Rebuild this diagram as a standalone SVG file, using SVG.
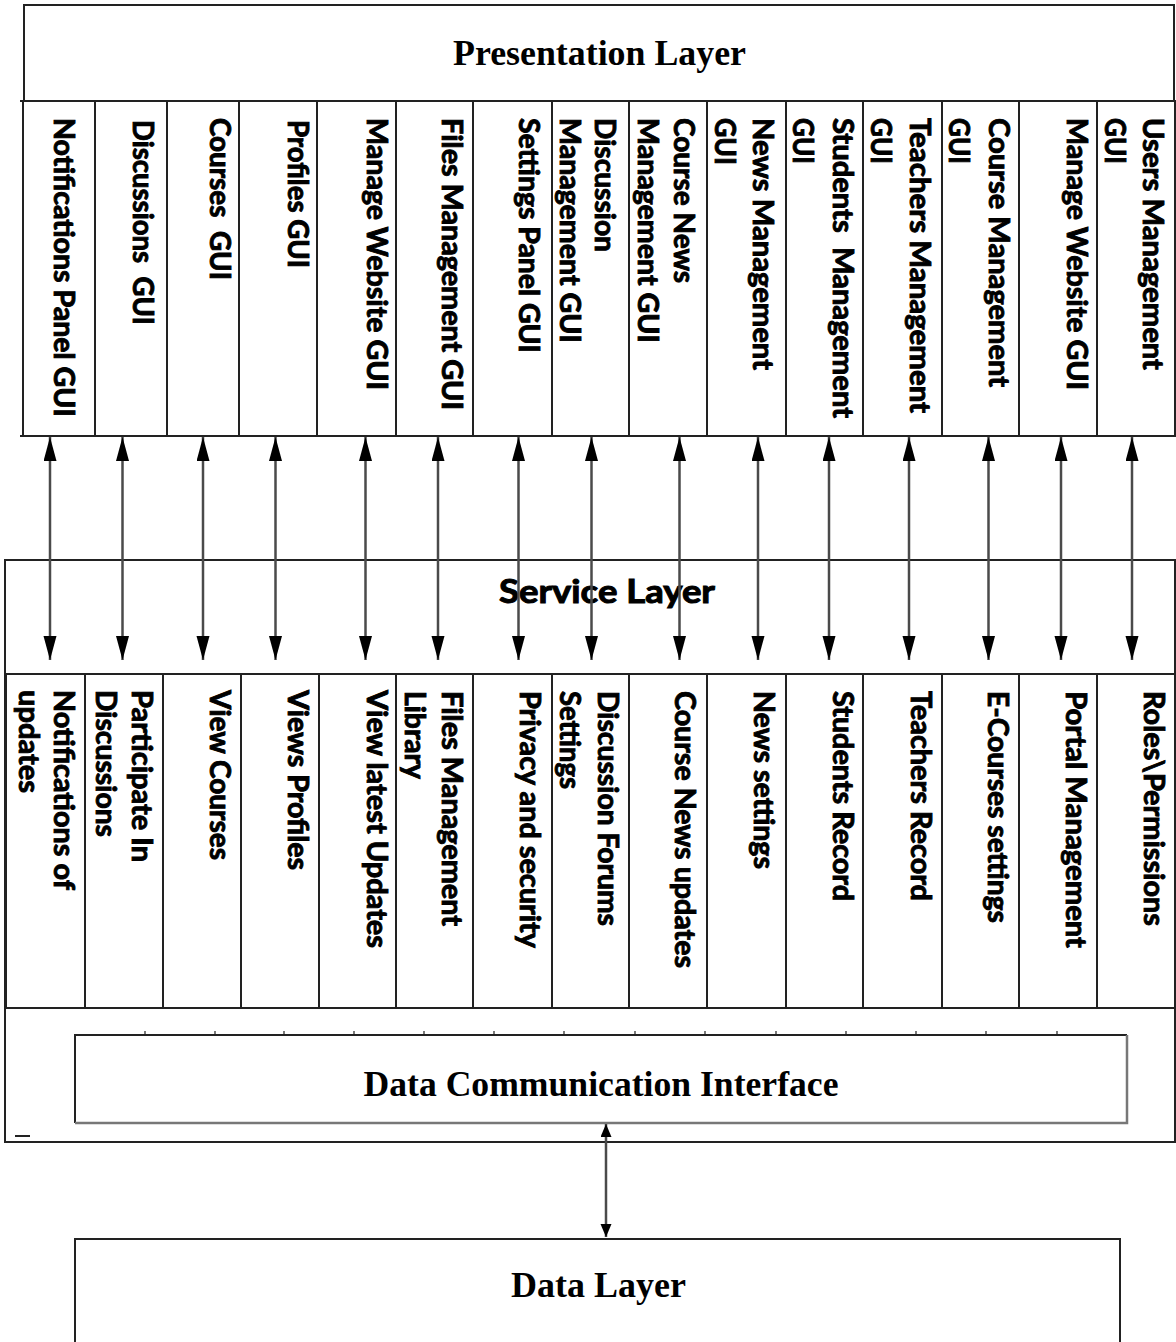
<svg xmlns="http://www.w3.org/2000/svg" width="1176" height="1342" viewBox="0 0 1176 1342">
  <style>
    .box { fill: #fff; stroke: #222; stroke-width: 2; }
    .cell { fill: none; stroke: #222; stroke-width: 2; }
    .rule { stroke: #222; stroke-width: 2; fill: none; }
    .col { font-family: Lato, "Liberation Sans", sans-serif; font-weight: bold; font-size: 28px; fill: #000; stroke: #000; stroke-width: 0.9; }
    .serif { font-family: "Liberation Serif", "Times New Roman", serif; font-weight: bold; font-size: 35px; fill: #000; }
    .sans { font-family: Lato, "Liberation Sans", sans-serif; font-weight: bold; font-size: 32px; fill: #000; stroke: #000; stroke-width: 1; }
    .link { stroke: #4a4a4a; stroke-width: 2.5; fill: none; }
  </style>
  <defs>
    <marker id="head" markerUnits="userSpaceOnUse" markerWidth="26" markerHeight="14" refX="24" refY="6.5" orient="auto-start-reverse">
      <path d="M0,0 L24,6.5 L0,13 z" fill="#000"/>
    </marker>
    <marker id="headSmall" markerUnits="userSpaceOnUse" markerWidth="15" markerHeight="12" refX="13" refY="5.5" orient="auto-start-reverse">
      <path d="M0,0 L13,5.5 L0,11 z" fill="#000"/>
    </marker>
  </defs>

  <rect width="1176" height="1342" fill="#fff"/>

  <!-- Presentation layer -->
  <g id="presentation-layer">
    <rect class="box" x="24" y="5" width="1150" height="96"/>
    <text class="serif" x="453" y="65" textLength="293" lengthAdjust="spacingAndGlyphs">Presentation Layer</text>
    <path class="rule" d="M20,101 H1175 M20,436 H1176 M23,101 V436 M1175,101 V436"/>
  </g>

  <g id="p-notifications">
    <rect class="cell" x="23" y="101" width="72" height="335"/>
    <text class="col" transform="translate(53.5,118) rotate(90)" textLength="299" lengthAdjust="spacingAndGlyphs">Notifications Panel GUI</text>
  </g>
  <g id="p-discussions">
    <rect class="cell" x="95" y="101" width="72" height="335"/>
    <text class="col" transform="translate(132.5,120) rotate(90)" textLength="205" lengthAdjust="spacingAndGlyphs" xml:space="preserve">Discussions  GUI</text>
  </g>
  <g id="p-courses">
    <rect class="cell" x="167" y="101" width="72" height="335"/>
    <text class="col" transform="translate(209.5,118) rotate(90)" textLength="162" lengthAdjust="spacingAndGlyphs" xml:space="preserve">Courses  GUI</text>
  </g>
  <g id="p-profiles">
    <rect class="cell" x="239" y="101" width="78" height="335"/>
    <text class="col" transform="translate(287.5,120) rotate(90)" textLength="148" lengthAdjust="spacingAndGlyphs">Profiles GUI</text>
  </g>
  <g id="p-manage-website-1">
    <rect class="cell" x="317" y="101" width="79" height="335"/>
    <text class="col" transform="translate(367,118) rotate(90)" textLength="272" lengthAdjust="spacingAndGlyphs">Manage Website GUI</text>
  </g>
  <g id="p-files">
    <rect class="cell" x="396" y="101" width="77" height="335"/>
    <text class="col" transform="translate(442,118) rotate(90)" textLength="292" lengthAdjust="spacingAndGlyphs">Files Management GUI</text>
  </g>
  <g id="p-settings">
    <rect class="cell" x="473" y="101" width="79" height="335"/>
    <text class="col" transform="translate(519,118) rotate(90)" textLength="235" lengthAdjust="spacingAndGlyphs">Settings Panel GUI</text>
  </g>
  <g id="p-discussion-mgmt">
    <rect class="cell" x="552" y="101" width="77" height="335"/>
    <text class="col" transform="translate(595,118) rotate(90)" textLength="134" lengthAdjust="spacingAndGlyphs">Discussion</text>
    <text class="col" transform="translate(560,118) rotate(90)" textLength="225" lengthAdjust="spacingAndGlyphs">Management GUI</text>
  </g>
  <g id="p-course-news">
    <rect class="cell" x="629" y="101" width="78" height="335"/>
    <text class="col" transform="translate(674,118) rotate(90)" textLength="165" lengthAdjust="spacingAndGlyphs">Course News</text>
    <text class="col" transform="translate(638,118) rotate(90)" textLength="225" lengthAdjust="spacingAndGlyphs">Management GUI</text>
  </g>
  <g id="p-news">
    <rect class="cell" x="707" y="101" width="79" height="335"/>
    <text class="col" transform="translate(753,118) rotate(90)" textLength="252" lengthAdjust="spacingAndGlyphs">News Management</text>
    <text class="col" transform="translate(715,118) rotate(90)" textLength="47" lengthAdjust="spacingAndGlyphs">GUI</text>
  </g>
  <g id="p-students">
    <rect class="cell" x="786" y="101" width="77" height="335"/>
    <text class="col" transform="translate(833,118) rotate(90)" textLength="300" lengthAdjust="spacingAndGlyphs" xml:space="preserve">Students  Management</text>
    <text class="col" transform="translate(793,118) rotate(90)" textLength="46" lengthAdjust="spacingAndGlyphs">GUI</text>
  </g>
  <g id="p-teachers">
    <rect class="cell" x="863" y="101" width="79" height="335"/>
    <text class="col" transform="translate(910,118) rotate(90)" textLength="295" lengthAdjust="spacingAndGlyphs">Teachers Management</text>
    <text class="col" transform="translate(871,118) rotate(90)" textLength="46" lengthAdjust="spacingAndGlyphs">GUI</text>
  </g>
  <g id="p-course-mgmt">
    <rect class="cell" x="942" y="101" width="77" height="335"/>
    <text class="col" transform="translate(989,118) rotate(90)" textLength="269" lengthAdjust="spacingAndGlyphs">Course Management</text>
    <text class="col" transform="translate(949,118) rotate(90)" textLength="46" lengthAdjust="spacingAndGlyphs">GUI</text>
  </g>
  <g id="p-manage-website-2">
    <rect class="cell" x="1019" y="101" width="78" height="335"/>
    <text class="col" transform="translate(1067,118) rotate(90)" textLength="272" lengthAdjust="spacingAndGlyphs">Manage Website GUI</text>
  </g>
  <g id="p-users">
    <rect class="cell" x="1097" y="101" width="78" height="335"/>
    <text class="col" transform="translate(1143,118) rotate(90)" textLength="252" lengthAdjust="spacingAndGlyphs">Users Management</text>
    <text class="col" transform="translate(1105,118) rotate(90)" textLength="46" lengthAdjust="spacingAndGlyphs">GUI</text>
  </g>

  <!-- Service layer -->
  <g id="service-layer">
    <rect class="box" x="5" y="560" width="1170" height="582"/>
    <text class="sans" x="499" y="603" textLength="216" lengthAdjust="spacingAndGlyphs">Service Layer</text>
    <path class="rule" d="M5,674 H1175 M5,1008 H1175"/>
    <path class="rule" d="M15,1136 H30"/>
  </g>

  <g id="s-notifications">
    <rect class="cell" x="6" y="674" width="79" height="334"/>
    <text class="col" transform="translate(54,690) rotate(90)" textLength="200" lengthAdjust="spacingAndGlyphs">Notifications of</text>
    <text class="col" transform="translate(19,690) rotate(90)" textLength="103" lengthAdjust="spacingAndGlyphs">updates</text>
  </g>
  <g id="s-participate">
    <rect class="cell" x="85" y="674" width="78" height="334"/>
    <text class="col" transform="translate(132,690) rotate(90)" textLength="172" lengthAdjust="spacingAndGlyphs">Participate In</text>
    <text class="col" transform="translate(96,690) rotate(90)" textLength="147" lengthAdjust="spacingAndGlyphs">Discussions</text>
  </g>
  <g id="s-view-courses">
    <rect class="cell" x="163" y="674" width="78" height="334"/>
    <text class="col" transform="translate(210,690) rotate(90)" textLength="170" lengthAdjust="spacingAndGlyphs">View Courses</text>
  </g>
  <g id="s-view-profiles">
    <rect class="cell" x="241" y="674" width="78" height="334"/>
    <text class="col" transform="translate(288,690) rotate(90)" textLength="180" lengthAdjust="spacingAndGlyphs">Views Profiles</text>
  </g>
  <g id="s-latest-updates">
    <rect class="cell" x="319" y="674" width="77" height="334"/>
    <text class="col" transform="translate(367,690) rotate(90)" textLength="258" lengthAdjust="spacingAndGlyphs">View latest Updates</text>
  </g>
  <g id="s-files-library">
    <rect class="cell" x="396" y="674" width="77" height="334"/>
    <text class="col" transform="translate(442,691) rotate(90)" textLength="235" lengthAdjust="spacingAndGlyphs">Files Management</text>
    <text class="col" transform="translate(405,691) rotate(90)" textLength="88" lengthAdjust="spacingAndGlyphs">Library</text>
  </g>
  <g id="s-privacy">
    <rect class="cell" x="473" y="674" width="79" height="334"/>
    <text class="col" transform="translate(520,691) rotate(90)" textLength="257" lengthAdjust="spacingAndGlyphs">Privacy and security</text>
  </g>
  <g id="s-forums">
    <rect class="cell" x="552" y="674" width="77" height="334"/>
    <text class="col" transform="translate(598,691) rotate(90)" textLength="235" lengthAdjust="spacingAndGlyphs">Discussion Forums</text>
    <text class="col" transform="translate(560,691) rotate(90)" textLength="98" lengthAdjust="spacingAndGlyphs">Settings</text>
  </g>
  <g id="s-course-news">
    <rect class="cell" x="629" y="674" width="78" height="334"/>
    <text class="col" transform="translate(675,691) rotate(90)" textLength="277" lengthAdjust="spacingAndGlyphs">Course News updates</text>
  </g>
  <g id="s-news-settings">
    <rect class="cell" x="707" y="674" width="79" height="334"/>
    <text class="col" transform="translate(754,691) rotate(90)" textLength="178" lengthAdjust="spacingAndGlyphs">News settings</text>
  </g>
  <g id="s-students">
    <rect class="cell" x="786" y="674" width="77" height="334"/>
    <text class="col" transform="translate(833,691) rotate(90)" textLength="210" lengthAdjust="spacingAndGlyphs">Students Record</text>
  </g>
  <g id="s-teachers">
    <rect class="cell" x="863" y="674" width="79" height="334"/>
    <text class="col" transform="translate(911,691) rotate(90)" textLength="210" lengthAdjust="spacingAndGlyphs">Teachers Record</text>
  </g>
  <g id="s-ecourses">
    <rect class="cell" x="942" y="674" width="77" height="334"/>
    <text class="col" transform="translate(988,691) rotate(90)" textLength="232" lengthAdjust="spacingAndGlyphs">E-Courses settings</text>
  </g>
  <g id="s-portal">
    <rect class="cell" x="1019" y="674" width="78" height="334"/>
    <text class="col" transform="translate(1066,691) rotate(90)" textLength="257" lengthAdjust="spacingAndGlyphs">Portal Management</text>
  </g>
  <g id="s-roles">
    <rect class="cell" x="1097" y="674" width="78" height="334"/>
    <text class="col" transform="translate(1144,691) rotate(90)" textLength="235" lengthAdjust="spacingAndGlyphs">Roles\Permissions</text>
  </g>

  <!-- Data communication interface -->
  <g id="data-communication-interface">
    <rect x="75" y="1035" width="1052" height="88" fill="#fff"/>
    <path d="M75,1123 V1035 H1127" stroke="#222" stroke-width="2" fill="none"/>
    <path d="M1127,1035 V1123 H75" stroke="#777" stroke-width="2.5" fill="none"/>
    <path stroke="#222" stroke-width="1.2" d="M145,1031 V1035 M215,1031 V1035 M284,1031 V1035 M354,1031 V1035 M424,1031 V1035 M494,1031 V1035 M564,1031 V1035 M635,1031 V1035 M705,1031 V1035 M776,1031 V1035 M846,1031 V1035 M916,1031 V1035 M986,1031 V1035 M1057,1031 V1035"/>
    <text class="serif" x="363.5" y="1096" textLength="475" lengthAdjust="spacingAndGlyphs">Data Communication Interface</text>
  </g>

  <!-- Data layer -->
  <g id="data-layer">
    <rect class="box" x="75" y="1239" width="1045" height="120"/>
    <text class="serif" x="511" y="1297" textLength="175" lengthAdjust="spacingAndGlyphs">Data Layer</text>
  </g>

  <!-- Connectors -->
  <g id="connectors">
    <line class="link" x1="50" y1="437" x2="50" y2="660" marker-start="url(#head)" marker-end="url(#head)"/>
    <line class="link" x1="122.5" y1="437" x2="122.5" y2="660" marker-start="url(#head)" marker-end="url(#head)"/>
    <line class="link" x1="203" y1="437" x2="203" y2="660" marker-start="url(#head)" marker-end="url(#head)"/>
    <line class="link" x1="275.5" y1="437" x2="275.5" y2="660" marker-start="url(#head)" marker-end="url(#head)"/>
    <line class="link" x1="365.5" y1="437" x2="365.5" y2="660" marker-start="url(#head)" marker-end="url(#head)"/>
    <line class="link" x1="438" y1="437" x2="438" y2="660" marker-start="url(#head)" marker-end="url(#head)"/>
    <line class="link" x1="518.5" y1="437" x2="518.5" y2="660" marker-start="url(#head)" marker-end="url(#head)"/>
    <line class="link" x1="591.5" y1="437" x2="591.5" y2="660" marker-start="url(#head)" marker-end="url(#head)"/>
    <line class="link" x1="679.5" y1="437" x2="679.5" y2="660" marker-start="url(#head)" marker-end="url(#head)"/>
    <line class="link" x1="758" y1="437" x2="758" y2="660" marker-start="url(#head)" marker-end="url(#head)"/>
    <line class="link" x1="829" y1="437" x2="829" y2="660" marker-start="url(#head)" marker-end="url(#head)"/>
    <line class="link" x1="909" y1="437" x2="909" y2="660" marker-start="url(#head)" marker-end="url(#head)"/>
    <line class="link" x1="988.5" y1="437" x2="988.5" y2="660" marker-start="url(#head)" marker-end="url(#head)"/>
    <line class="link" x1="1061" y1="437" x2="1061" y2="660" marker-start="url(#head)" marker-end="url(#head)"/>
    <line class="link" x1="1132" y1="437" x2="1132" y2="660" marker-start="url(#head)" marker-end="url(#head)"/>
    <line class="link" x1="606" y1="1124" x2="606" y2="1237" marker-start="url(#headSmall)" marker-end="url(#headSmall)"/>
  </g>
</svg>
